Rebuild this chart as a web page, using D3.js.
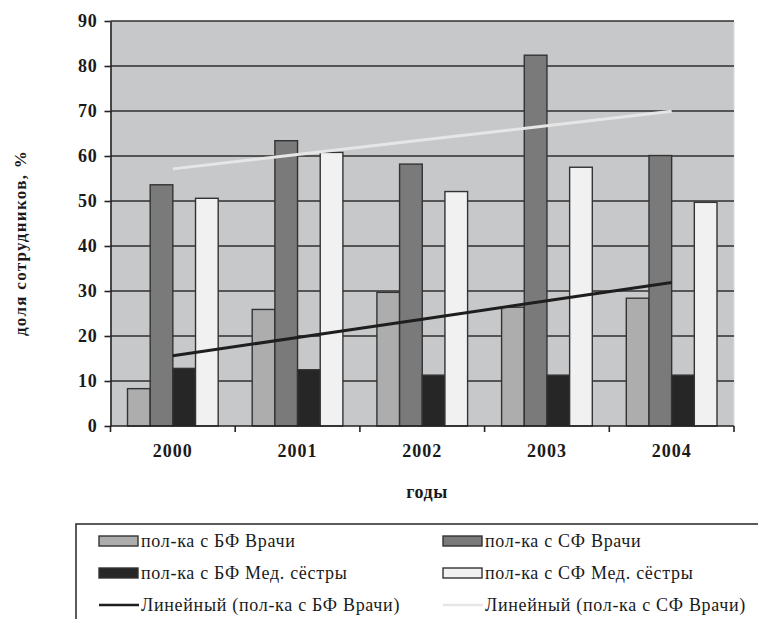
<!DOCTYPE html>
<html>
<head>
<meta charset="utf-8">
<script src="https://cdn.jsdelivr.net/npm/d3@7"></script>
<style>
  html, body { margin: 0; padding: 0; background: #fff; }
  svg { display: block; }
</style>
</head>
<body>
<svg id="chart" width="758" height="619"></svg>
<script>
// Years on the category axis
const years = ["2000", "2001", "2002", "2003", "2004"];

// Share of staff, %, per clinic and staff group
const bfDoctors = [8.3, 25.9, 29.7, 26.4, 28.4];
const sfDoctors = [53.6, 63.4, 58.2, 82.4, 60.1];
const bfNurses = [12.8, 12.5, 11.3, 11.3, 11.3];
const sfNurses = [50.6, 60.8, 52.1, 57.5, 49.7];

const seriesNames = [
  "пол-ка с БФ Врачи",
  "пол-ка с СФ Врачи",
  "пол-ка с БФ Мед. сёстры",
  "пол-ка с СФ Мед. сёстры"
];
const trendNames = [
  "Линейный (пол-ка с БФ Врачи)",
  "Линейный (пол-ка с СФ Врачи)"
];
const yTicks = [0, 10, 20, 30, 40, 50, 60, 70, 80, 90];

const fills = ["#adadad", "#7a7a7a", "#262626", "#f1f1f1"];
const trendColors = ["#1e1e1e", "#e6e6e6"];

const series = [bfDoctors, sfDoctors, bfNurses, sfNurses];

const svg = d3.select("#chart");
const serif = "'Liberation Serif', 'Times New Roman', serif";

const plot = { left: 110.5, right: 734, top: 21, bottom: 426 };

const x = d3.scaleBand().domain(years).range([plot.left, plot.right]).paddingInner(0).paddingOuter(0);
// 4 bars plus a gap of 1.5 bar widths in each category
const barW = x.bandwidth() / 5.5;
const xs = d3.scaleBand().domain(d3.range(4)).range([barW * 0.75, barW * 4.75]).padding(0);
const y = d3.scaleLinear().domain([0, 90]).range([plot.bottom, plot.top]);

// plot background
svg.append("rect")
  .attr("x", plot.left).attr("y", plot.top)
  .attr("width", plot.right - plot.left).attr("height", plot.bottom - plot.top)
  .attr("fill", "#c7c8ca");
svg.append("line")
  .attr("x1", plot.right).attr("x2", plot.right)
  .attr("y1", plot.top).attr("y2", plot.bottom)
  .attr("stroke", "#dcdcdc").attr("stroke-width", 1);

// horizontal gridlines
svg.append("g").selectAll("line")
  .data(yTicks.filter(d => d > 0))
  .join("line")
  .attr("x1", plot.left).attr("x2", plot.right)
  .attr("y1", d => y(d)).attr("y2", d => y(d))
  .attr("stroke", "#2f2f2f").attr("stroke-width", 1.6);

// bars
const groups = svg.append("g").selectAll("g")
  .data(series)
  .join("g")
  .attr("fill", (d, i) => fills[i]);
groups.selectAll("rect")
  .data((d, i) => d.map((v, j) => ({ v, year: years[j], s: i })))
  .join("rect")
  .attr("x", d => x(d.year) + xs(d.s))
  .attr("width", xs.bandwidth())
  .attr("y", d => y(d.v))
  .attr("height", d => y(0) - y(d.v))
  .attr("stroke", "#333")
  .attr("stroke-width", 1.4);

// linear trendlines (least squares over category index)
function linFit(vals) {
  const n = vals.length;
  const xsIdx = d3.range(1, n + 1);
  const mx = d3.mean(xsIdx), my = d3.mean(vals);
  const b = d3.sum(xsIdx, (xi, k) => (xi - mx) * (vals[k] - my)) / d3.sum(xsIdx, xi => (xi - mx) ** 2);
  const a = my - b * mx;
  return xsIdx.map(xi => a + b * xi);
}
const trendSeries = [bfDoctors, sfDoctors];
const line = d3.line()
  .x((d, i) => x(years[i]) + x.bandwidth() / 2)
  .y(d => y(d));
svg.append("g").selectAll("path")
  .data(trendSeries.map(linFit))
  .join("path")
  .attr("d", line)
  .attr("fill", "none")
  .attr("stroke", (d, i) => trendColors[i])
  .attr("stroke-width", 3);

// y axis
const yAxis = d3.axisLeft(y).tickValues(yTicks).tickSize(6).tickSizeOuter(0).tickPadding(7);
const gy = svg.append("g").attr("transform", `translate(${plot.left},0)`).call(yAxis);
gy.select(".domain").attr("stroke", "#222").attr("stroke-width", 1.6);
gy.selectAll(".tick line").attr("stroke", "#222").attr("stroke-width", 1.6);
gy.selectAll(".tick text")
  .attr("font-family", serif).attr("font-weight", "bold").attr("font-size", 18)
  .attr("letter-spacing", 0.8)
  .attr("fill", "#1a1a1a");

// x axis (ticks at category boundaries)
const gx = svg.append("g").attr("transform", `translate(0,${plot.bottom})`);
gx.append("line")
  .attr("x1", plot.left).attr("x2", plot.right)
  .attr("stroke", "#222").attr("stroke-width", 1.6);
gx.selectAll("line.tk")
  .data(years.map(d => x(d)).concat([plot.right]))
  .join("line")
  .attr("class", "tk")
  .attr("x1", d => d).attr("x2", d => d)
  .attr("y1", 0).attr("y2", 6)
  .attr("stroke", "#222").attr("stroke-width", 1.6);
gx.selectAll("text")
  .data(years)
  .join("text")
  .attr("x", d => x(d) + x.bandwidth() / 2)
  .attr("y", 31)
  .attr("text-anchor", "middle")
  .attr("font-family", serif).attr("font-weight", "bold").attr("font-size", 18)
  .attr("letter-spacing", 1)
  .attr("fill", "#1a1a1a")
  .text(d => d);

// axis titles
svg.append("text")
  .attr("x", 427).attr("y", 498)
  .attr("text-anchor", "middle")
  .attr("font-family", serif).attr("font-weight", "bold").attr("font-size", 18)
  .attr("letter-spacing", 0.5)
  .attr("fill", "#1a1a1a")
  .text("годы");
svg.append("text")
  .attr("transform", "translate(26,243) rotate(-90)")
  .attr("text-anchor", "middle")
  .attr("font-family", serif).attr("font-weight", "bold").attr("font-size", 17)
  .attr("letter-spacing", 1.3)
  .attr("fill", "#1a1a1a")
  .text("доля сотрудников, %");

// legend
const lg = svg.append("g");
lg.append("rect")
  .attr("x", 76).attr("y", 524)
  .attr("width", 700).attr("height", 120)
  .attr("fill", "#fff").attr("stroke", "#333").attr("stroke-width", 1.6);

const legendItems = [
  { name: seriesNames[0], type: "bar", color: fills[0], col: 0, row: 0 },
  { name: seriesNames[1], type: "bar", color: fills[1], col: 1, row: 0 },
  { name: seriesNames[2], type: "bar", color: fills[2], col: 0, row: 1 },
  { name: seriesNames[3], type: "bar", color: fills[3], col: 1, row: 1 },
  { name: trendNames[0], type: "line", color: trendColors[0], col: 0, row: 2 },
  { name: trendNames[1], type: "line", color: trendColors[1], col: 1, row: 2 }
];
const colX = [99, 443];
const rowY = [541, 573, 605];
const items = lg.selectAll("g.item")
  .data(legendItems)
  .join("g")
  .attr("transform", d => `translate(${colX[d.col]},${rowY[d.row]})`);
items.filter(d => d.type === "bar").append("rect")
  .attr("x", 0).attr("y", -5).attr("width", 39).attr("height", 10)
  .attr("fill", d => d.color).attr("stroke", "#333").attr("stroke-width", 1.4);
items.filter(d => d.type === "line").append("line")
  .attr("x1", 0).attr("x2", 40).attr("y1", 0).attr("y2", 0)
  .attr("stroke", d => d.color).attr("stroke-width", 2.5);
items.append("text")
  .attr("x", 42).attr("y", 6)
  .attr("font-family", serif).attr("font-size", 18)
  .attr("letter-spacing", 0.7)
  .attr("fill", "#1a1a1a")
  .text(d => d.name);
</script>
</body>
</html>
